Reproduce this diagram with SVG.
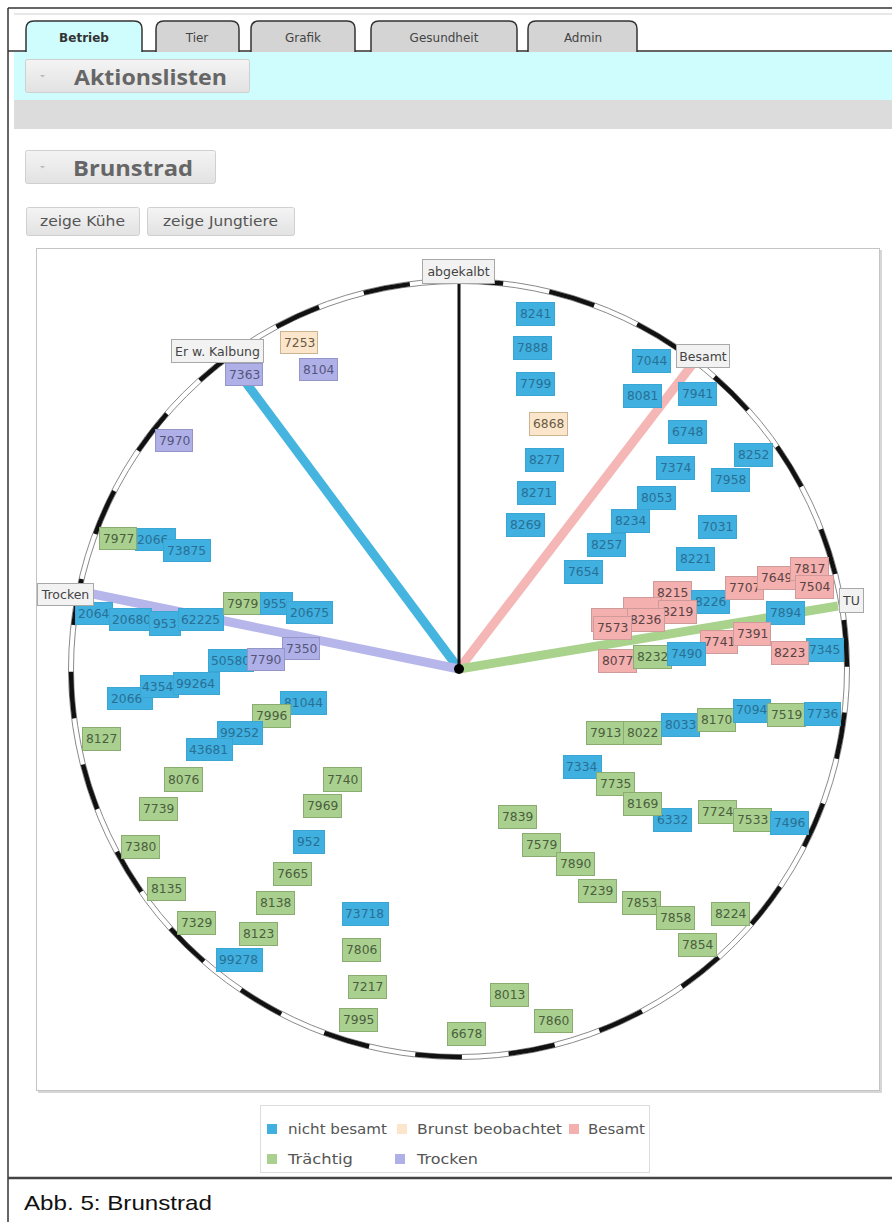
<svg xmlns="http://www.w3.org/2000/svg" width="892" height="1222" viewBox="0 0 892 1222">
<style>
.tab{stroke:#333;stroke-width:1.5}
.tt{font-family:"DejaVu Sans",Verdana,sans-serif;font-size:12px;fill:#444;text-anchor:middle}
.btn{fill:url(#bg);stroke:#d0d0d0}
.bt{font-family:"Open Sans","DejaVu Sans",sans-serif;font-weight:bold;font-size:21px;fill:#666}
.st{font-family:"DejaVu Sans",Verdana,sans-serif;font-size:13.5px;fill:#555}
.n rect{stroke-width:1}
.n text{font-family:"DejaVu Sans",Verdana,sans-serif;font-size:12.3px}
.b rect{fill:#3fb0df;stroke:#3aa6d4}
.b text{fill:#2a6f95}
.y rect{fill:#fbe6cb;stroke:#cdb38f}
.y text{fill:#6a5a45}
.p rect{fill:#f4afaf;stroke:#cf9a9a}
.p text{fill:#5a4444}
.g rect{fill:#a9d08e;stroke:#8aac70}
.g text{fill:#4b5e40}
.v rect{fill:#b0b0e8;stroke:#9595c8}
.v text{fill:#54557a}
.lab rect{fill:#f2f2f2;stroke:#a8a8a8}
.lab text{font-family:"DejaVu Sans",Verdana,sans-serif;font-size:12.5px;fill:#444;text-anchor:middle}
.lg{font-family:"DejaVu Sans",Verdana,sans-serif;font-size:14px;fill:#555}
</style>
<defs>
<linearGradient id="bg" x1="0" y1="0" x2="0" y2="1"><stop offset="0" stop-color="#f4f4f4"/><stop offset="1" stop-color="#e2e2e2"/></linearGradient>
</defs>
<rect x="0" y="0" width="892" height="1222" fill="#fff"/>
<!-- page frame -->
<g id="frame" fill="none">
<path d="M8 8 H892" stroke="#333" stroke-width="1.5"/>
<path d="M14 14 H892" stroke="#d0d0d0" stroke-width="1"/>
<path d="M8 8 V1222" stroke="#333" stroke-width="1.5"/>
<path d="M8 1178 H892" stroke="#444" stroke-width="2.5"/>
</g>
<!-- bands -->
<rect x="14" y="52" width="878" height="48" fill="#cffdfd"/>
<rect x="14" y="100" width="878" height="29" fill="#dcdcdc"/>
<!-- tabs -->
<g id="tabs">
<path class="tab" d="M26 52 V29 Q26 21 34 21 H134 Q142 21 142 29 V52" fill="#cffdfd"/>
<path class="tab" d="M156 52 V29 Q156 21 164 21 H231 Q239 21 239 29 V52" fill="#d4d4d4"/>
<path class="tab" d="M251 52 V29 Q251 21 259 21 H347 Q355 21 355 29 V52" fill="#d4d4d4"/>
<path class="tab" d="M371 52 V29 Q371 21 379 21 H509 Q517 21 517 29 V52" fill="#d4d4d4"/>
<path class="tab" d="M528 52 V29 Q528 21 536 21 H629 Q637 21 637 29 V52" fill="#d4d4d4"/>
<path d="M8 51 H26 M142 51 H156 M239 51 H251 M355 51 H371 M517 51 H528 M637 51 H892" stroke="#333" stroke-width="1.5" fill="none"/>
<text class="tt" x="84" y="42" font-weight="bold" style="fill:#333">Betrieb</text>
<text class="tt" x="197" y="42">Tier</text>
<text class="tt" x="303" y="42">Grafik</text>
<text class="tt" x="444" y="42">Gesundheit</text>
<text class="tt" x="583" y="42">Admin</text>
</g>
<!-- section buttons -->
<g id="aktionslisten">
<rect class="btn" x="25.5" y="59.5" width="224" height="33" rx="2"/>
<path d="M40 75 h5 l-2.5 2.5 z" fill="#bbb"/>
<text class="bt" x="74" y="85" textLength="153" lengthAdjust="spacingAndGlyphs">Aktionslisten</text>
</g>
<g id="brunstrad">
<rect class="btn" x="25.5" y="150.5" width="190" height="33" rx="2"/>
<path d="M40 166 h5 l-2.5 2.5 z" fill="#bbb"/>
<text class="bt" x="73" y="176" textLength="120" lengthAdjust="spacingAndGlyphs">Brunstrad</text>
</g>
<g id="btn-kuehe">
<rect class="btn" x="26.5" y="207.5" width="113" height="28" rx="2"/>
<text class="st" x="40" y="226" textLength="85" lengthAdjust="spacingAndGlyphs">zeige Kühe</text>
</g>
<g id="btn-jungtiere">
<rect class="btn" x="147.5" y="207.5" width="147" height="28" rx="2"/>
<text class="st" x="163" y="226" textLength="115" lengthAdjust="spacingAndGlyphs">zeige Jungtiere</text>
</g>
<!-- chart box -->
<g id="chartbox">
<rect x="38" y="250" width="844" height="843" fill="#d6d6d6"/>
<rect x="36.5" y="248.5" width="843" height="842" fill="#fff" stroke="#c4c4c4"/>
</g>
<!-- ring -->
<g id="ring" fill="none">
<circle cx="459" cy="669" r="390.5" stroke="#8a8a8a" stroke-width="1"/>
<circle cx="459" cy="669" r="385.5" stroke="#8a8a8a" stroke-width="1"/>
<circle cx="459" cy="669" r="388" stroke="#111" stroke-width="4.5" stroke-dasharray="46.88 46.88" stroke-dashoffset="-43.7"/>
</g>
<!-- connectors -->
<g id="connectors" fill="none" stroke-linecap="butt">
<path d="M459 669 L232 364" stroke="#45b5e0" stroke-width="9"/>
<path d="M459 669 L698 357" stroke="#f5b6b6" stroke-width="9"/>
<path d="M459 669 L838 606" stroke="#a9d38c" stroke-width="9"/>
<path d="M459 669 L88 593" stroke="#b6b6ea" stroke-width="9"/>
<path d="M459 669 V283" stroke="#111" stroke-width="3"/>
</g>
<circle id="center" cx="459" cy="669" r="5" fill="#000"/>
<!-- data nodes -->
<g id="nodes">
<g id="n7253" class="n y"><rect x="280.5" y="331.5" width="37" height="22"/><text x="284" y="347">7253</text></g>
<g id="n7363" class="n v"><rect x="225.5" y="363.5" width="37" height="22"/><text x="229" y="379">7363</text></g>
<g id="n8104" class="n v"><rect x="299.5" y="358.5" width="38" height="22"/><text x="303" y="374">8104</text></g>
<g id="n7970" class="n v"><rect x="155.5" y="429.5" width="37" height="22"/><text x="159" y="445">7970</text></g>
<g id="n2066a" class="n b"><rect x="135.5" y="528.5" width="40" height="22"/><text x="137" y="544">2066</text></g>
<g id="n73875" class="n b"><rect x="163.5" y="539.5" width="47" height="22"/><text x="167" y="555">73875</text></g>
<g id="n7977" class="n g"><rect x="99.5" y="527.5" width="37" height="22"/><text x="103" y="543">7977</text></g>

<g id="n2064" class="n b"><rect x="75.5" y="602.5" width="37" height="22"/><text x="78" y="618">2064</text></g>
<g id="n20680" class="n b"><rect x="109.5" y="608.5" width="42" height="22"/><text x="112" y="624">20680</text></g>
<g id="n953" class="n b"><rect x="149.5" y="611.5" width="31" height="24"/><text x="153" y="628">953</text></g>
<g id="n62225" class="n b"><rect x="178.5" y="608.5" width="45" height="22"/><text x="181" y="624">62225</text></g>
<g id="n7979" class="n g"><rect x="223.5" y="592.5" width="37" height="22"/><text x="227" y="608">7979</text></g>
<g id="n955" class="n b"><rect x="260.5" y="592.5" width="32" height="22"/><text x="263" y="608">955</text></g>
<g id="n20675" class="n b"><rect x="286.5" y="601.5" width="46" height="22"/><text x="290" y="617">20675</text></g>
<g id="n7350" class="n v"><rect x="282.5" y="637.5" width="37" height="22"/><text x="286" y="653">7350</text></g>
<g id="n50580" class="n b"><rect x="208.5" y="649.5" width="45" height="22"/><text x="211" y="665">50580</text></g>
<g id="n7790" class="n v"><rect x="247.5" y="648.5" width="37" height="22"/><text x="250" y="664">7790</text></g>
<g id="n2066b" class="n b"><rect x="107.5" y="687.5" width="45" height="22"/><text x="111" y="703">2066</text></g>
<g id="n4354" class="n b"><rect x="140.5" y="675.5" width="38" height="22"/><text x="142" y="691">4354</text></g>
<g id="n99264" class="n b"><rect x="173.5" y="672.5" width="46" height="22"/><text x="176" y="688">99264</text></g>
<g id="n81044" class="n b"><rect x="280.5" y="691.5" width="46" height="23"/><text x="284" y="707">81044</text></g>
<g id="n7996" class="n g"><rect x="252.5" y="704.5" width="38" height="23"/><text x="256" y="720">7996</text></g>
<g id="n99252" class="n b"><rect x="217.5" y="721.5" width="45" height="23"/><text x="220" y="737">99252</text></g>
<g id="n43681" class="n b"><rect x="186.5" y="738.5" width="46" height="22"/><text x="189" y="754">43681</text></g>
<g id="n8127" class="n g"><rect x="82.5" y="727.5" width="38" height="23"/><text x="86" y="743">8127</text></g>

<g id="n8076" class="n g"><rect x="164.5" y="767.5" width="38" height="24"/><text x="168" y="784">8076</text></g>
<g id="n7740" class="n g"><rect x="323.5" y="767.5" width="38" height="24"/><text x="327" y="784">7740</text></g>
<g id="n7739" class="n g"><rect x="139.5" y="797.5" width="38" height="23"/><text x="143" y="813">7739</text></g>
<g id="n7969" class="n g"><rect x="303.5" y="794.5" width="38" height="23"/><text x="307" y="810">7969</text></g>
<g id="n952" class="n b"><rect x="293.5" y="830.5" width="31" height="23"/><text x="297" y="846">952</text></g>
<g id="n7380" class="n g"><rect x="121.5" y="835.5" width="38" height="23"/><text x="125" y="851">7380</text></g>
<g id="n7665" class="n g"><rect x="273.5" y="862.5" width="38" height="23"/><text x="277" y="878">7665</text></g>
<g id="n8135" class="n g"><rect x="147.5" y="877.5" width="38" height="23"/><text x="151" y="893">8135</text></g>
<g id="n8138" class="n g"><rect x="256.5" y="891.5" width="38" height="23"/><text x="260" y="907">8138</text></g>
<g id="n73718" class="n b"><rect x="342.5" y="902.5" width="46" height="23"/><text x="345" y="918">73718</text></g>
<g id="n7329" class="n g"><rect x="177.5" y="911.5" width="38" height="23"/><text x="181" y="927">7329</text></g>
<g id="n8123" class="n g"><rect x="239.5" y="922.5" width="38" height="23"/><text x="243" y="938">8123</text></g>
<g id="n7806" class="n g"><rect x="342.5" y="938.5" width="38" height="23"/><text x="346" y="954">7806</text></g>
<g id="n99278" class="n b"><rect x="216.5" y="948.5" width="46" height="23"/><text x="219" y="964">99278</text></g>
<g id="n7217" class="n g"><rect x="348.5" y="975.5" width="38" height="23"/><text x="352" y="991">7217</text></g>
<g id="n7995" class="n g"><rect x="339.5" y="1008.5" width="38" height="23"/><text x="343" y="1024">7995</text></g>

<g id="n8013" class="n g"><rect x="490.5" y="983.5" width="38" height="23"/><text x="494" y="999">8013</text></g>
<g id="n7860" class="n g"><rect x="534.5" y="1009.5" width="38" height="23"/><text x="538" y="1025">7860</text></g>
<g id="n6678" class="n g"><rect x="447.5" y="1022.5" width="38" height="23"/><text x="451" y="1038">6678</text></g>

<g id="n7913" class="n g"><rect x="586.5" y="721.5" width="37" height="23"/><text x="590" y="737">7913</text></g>
<g id="n8022" class="n g"><rect x="623.5" y="721.5" width="38" height="23"/><text x="627" y="737">8022</text></g>
<g id="n8033" class="n b"><rect x="661.5" y="713.5" width="38" height="23"/><text x="665" y="729">8033</text></g>
<g id="n8170" class="n g"><rect x="697.5" y="708.5" width="38" height="23"/><text x="701" y="724">8170</text></g>
<g id="n7094" class="n b"><rect x="733.5" y="699.5" width="37" height="23"/><text x="736" y="714">7094</text></g>
<g id="n7519" class="n g"><rect x="767.5" y="703.5" width="38" height="23"/><text x="771" y="719">7519</text></g>
<g id="n7736" class="n b"><rect x="804.5" y="702.5" width="36" height="23"/><text x="807" y="718">7736</text></g>
<g id="n7334" class="n b"><rect x="563.5" y="755.5" width="38" height="23"/><text x="566" y="771">7334</text></g>
<g id="n7735" class="n g"><rect x="596.5" y="772.5" width="38" height="23"/><text x="600" y="788">7735</text></g>
<g id="n6332" class="n b"><rect x="653.5" y="808.5" width="38" height="23"/><text x="657" y="824">6332</text></g>
<g id="n8169" class="n g"><rect x="623.5" y="792.5" width="38" height="23"/><text x="627" y="808">8169</text></g>
<g id="n7724" class="n g"><rect x="698.5" y="800.5" width="38" height="23"/><text x="702" y="816">7724</text></g>
<g id="n7533" class="n g"><rect x="733.5" y="808.5" width="38" height="23"/><text x="737" y="824">7533</text></g>
<g id="n7496" class="n b"><rect x="770.5" y="811.5" width="38" height="23"/><text x="774" y="827">7496</text></g>
<g id="n7839" class="n g"><rect x="498.5" y="805.5" width="38" height="23"/><text x="502" y="821">7839</text></g>
<g id="n7579" class="n g"><rect x="522.5" y="833.5" width="38" height="23"/><text x="526" y="849">7579</text></g>
<g id="n7890" class="n g"><rect x="556.5" y="852.5" width="38" height="23"/><text x="560" y="868">7890</text></g>
<g id="n7239" class="n g"><rect x="578.5" y="879.5" width="38" height="23"/><text x="582" y="895">7239</text></g>
<g id="n7853" class="n g"><rect x="622.5" y="891.5" width="38" height="23"/><text x="626" y="907">7853</text></g>
<g id="n7858" class="n g"><rect x="656.5" y="906.5" width="38" height="23"/><text x="660" y="922">7858</text></g>
<g id="n8224" class="n g"><rect x="711.5" y="902.5" width="38" height="23"/><text x="715" y="918">8224</text></g>
<g id="n7854" class="n g"><rect x="678.5" y="933.5" width="38" height="23"/><text x="682" y="949">7854</text></g>

<g id="n8241" class="n b"><rect x="516.5" y="302.5" width="38" height="23"/><text x="520" y="318">8241</text></g>
<g id="n7888" class="n b"><rect x="513.5" y="336.5" width="38" height="23"/><text x="517" y="352">7888</text></g>
<g id="n7799" class="n b"><rect x="516.5" y="372.5" width="38" height="23"/><text x="520" y="388">7799</text></g>
<g id="n6868" class="n y"><rect x="529.5" y="412.5" width="38" height="23"/><text x="533" y="428">6868</text></g>
<g id="n8277" class="n b"><rect x="525.5" y="448.5" width="38" height="23"/><text x="529" y="464">8277</text></g>
<g id="n8271" class="n b"><rect x="517.5" y="481.5" width="38" height="23"/><text x="521" y="497">8271</text></g>
<g id="n8269" class="n b"><rect x="506.5" y="513.5" width="38" height="23"/><text x="510" y="529">8269</text></g>
<g id="n7044" class="n b"><rect x="632.5" y="349.5" width="38" height="23"/><text x="636" y="365">7044</text></g>
<g id="n8081" class="n b"><rect x="623.5" y="384.5" width="38" height="23"/><text x="627" y="400">8081</text></g>
<g id="n7941" class="n b"><rect x="678.5" y="382.5" width="38" height="23"/><text x="682" y="398">7941</text></g>
<g id="n6748" class="n b"><rect x="668.5" y="420.5" width="38" height="23"/><text x="672" y="436">6748</text></g>
<g id="n8252" class="n b"><rect x="734.5" y="443.5" width="38" height="23"/><text x="738" y="459">8252</text></g>
<g id="n7374" class="n b"><rect x="656.5" y="456.5" width="38" height="23"/><text x="660" y="472">7374</text></g>
<g id="n7958" class="n b"><rect x="711.5" y="468.5" width="38" height="23"/><text x="715" y="484">7958</text></g>
<g id="n8053" class="n b"><rect x="637.5" y="486.5" width="38" height="23"/><text x="641" y="502">8053</text></g>
<g id="n8234" class="n b"><rect x="611.5" y="509.5" width="38" height="23"/><text x="615" y="525">8234</text></g>
<g id="n7031" class="n b"><rect x="698.5" y="515.5" width="38" height="23"/><text x="702" y="531">7031</text></g>
<g id="n8257" class="n b"><rect x="587.5" y="533.5" width="38" height="23"/><text x="591" y="549">8257</text></g>
<g id="n7654" class="n b"><rect x="564.5" y="560.5" width="38" height="23"/><text x="568" y="576">7654</text></g>
<g id="n8221" class="n b"><rect x="676.5" y="547.5" width="38" height="23"/><text x="680" y="563">8221</text></g>

<g id="n8215" class="n p"><rect x="653.5" y="581.5" width="38" height="23"/><text x="657" y="597">8215</text></g>
<g id="n8226" class="n b"><rect x="691.5" y="590.5" width="38" height="23"/><text x="695" y="606">8226</text></g>
<g id="n-hidden1" class="n p"><rect x="623.5" y="597.5" width="38" height="23"/></g>
<g id="n8219" class="n p"><rect x="658.5" y="600.5" width="38" height="23"/><text x="662" y="616">8219</text></g>
<g id="n-hidden2" class="n p"><rect x="591.5" y="608.5" width="37" height="23"/></g>
<g id="n8236" class="n p"><rect x="627.5" y="608.5" width="37" height="23"/><text x="630" y="624">8236</text></g>
<g id="n7573" class="n p"><rect x="593.5" y="616.5" width="38" height="23"/><text x="597" y="632">7573</text></g>
<g id="n7707" class="n p"><rect x="725.5" y="576.5" width="38" height="23"/><text x="729" y="592">7707</text></g>
<g id="n7649" class="n p"><rect x="757.5" y="566.5" width="38" height="23"/><text x="761" y="582">7649</text></g>
<g id="n7817" class="n p"><rect x="790.5" y="557.5" width="38" height="23"/><text x="794" y="573">7817</text></g>
<g id="n7504" class="n p"><rect x="795.5" y="575.5" width="38" height="23"/><text x="799" y="591">7504</text></g>
<g id="n7894" class="n b"><rect x="766.5" y="601.5" width="38" height="23"/><text x="770" y="617">7894</text></g>
<g id="n7741" class="n p"><rect x="700.5" y="630.5" width="37" height="23"/><text x="704" y="646">7741</text></g>
<g id="n7391" class="n p"><rect x="733.5" y="622.5" width="37" height="23"/><text x="737" y="638">7391</text></g>
<g id="n7345" class="n b"><rect x="806.5" y="638.5" width="37" height="23"/><text x="809" y="654">7345</text></g>
<g id="n8223" class="n p"><rect x="771.5" y="641.5" width="37" height="23"/><text x="774" y="657">8223</text></g>
<g id="n8077" class="n p"><rect x="598.5" y="649.5" width="38" height="23"/><text x="602" y="665">8077</text></g>
<g id="n8232" class="n g"><rect x="633.5" y="645.5" width="38" height="23"/><text x="637" y="661">8232</text></g>
<g id="n7490" class="n b"><rect x="667.5" y="642.5" width="38" height="23"/><text x="671" y="658">7490</text></g>
</g>
<!-- spoke labels -->
<g id="lab-abgekalbt" class="lab"><rect x="422.5" y="259.5" width="72" height="24"/><text x="458.5" y="276">abgekalbt</text></g>
<g id="lab-besamt" class="lab"><rect x="676.5" y="344.5" width="53" height="23"/><text x="703" y="361">Besamt</text></g>
<g id="lab-tu" class="lab"><rect x="839.5" y="588.5" width="24" height="24"/><text x="851.5" y="605">TU</text></g>
<g id="lab-trocken" class="lab"><rect x="37.5" y="583.5" width="56" height="22"/><text x="65.5" y="599">Trocken</text></g>
<g id="lab-erw" class="lab"><rect x="171.5" y="339.5" width="92" height="23"/><text x="217.5" y="356">Er w. Kalbung</text></g>
<!-- legend -->
<g id="legend">
<rect x="260.5" y="1105.5" width="389" height="67" fill="#fff" stroke="#ddd"/>
<rect x="267" y="1124" width="10" height="10" fill="#3fb0df"/>
<text class="lg" x="288" y="1134" textLength="99" lengthAdjust="spacingAndGlyphs">nicht besamt</text>
<rect x="397" y="1124" width="10" height="10" fill="#fbe6cb"/>
<text class="lg" x="417" y="1134" textLength="145" lengthAdjust="spacingAndGlyphs">Brunst beobachtet</text>
<rect x="569" y="1124" width="10" height="10" fill="#f4afaf"/>
<text class="lg" x="588" y="1134" textLength="57" lengthAdjust="spacingAndGlyphs">Besamt</text>
<rect x="267" y="1154" width="10" height="10" fill="#a9d08e"/>
<text class="lg" x="288" y="1164" textLength="65" lengthAdjust="spacingAndGlyphs">Trächtig</text>
<rect x="395" y="1154" width="10" height="10" fill="#b0b0e8"/>
<text class="lg" x="417" y="1164" textLength="61" lengthAdjust="spacingAndGlyphs">Trocken</text>
</g>
<text id="caption" x="24" y="1210" font-family="'Liberation Sans',Arial,sans-serif" font-size="21" fill="#111" textLength="188" lengthAdjust="spacingAndGlyphs">Abb. 5: Brunstrad</text>
</svg>
